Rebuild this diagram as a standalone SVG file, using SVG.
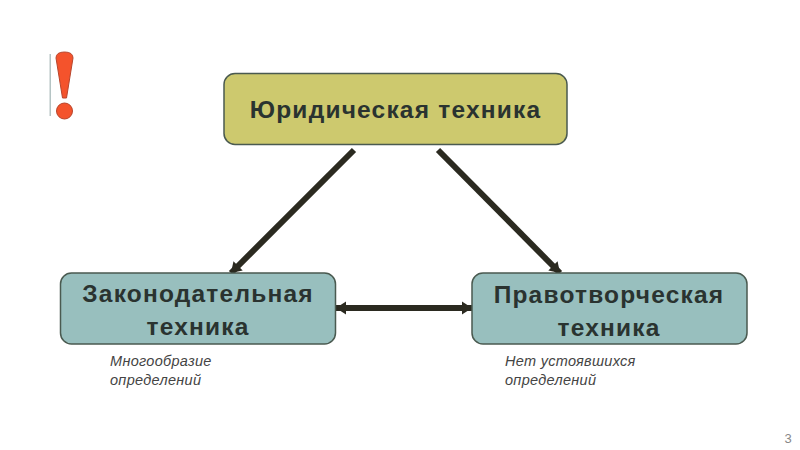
<svg xmlns="http://www.w3.org/2000/svg" width="800" height="450" viewBox="0 0 800 450">
<style>
.n{stroke:#4a5a50;stroke-width:1.5}
.t{font-family:"Liberation Sans",Arial,sans-serif;font-weight:bold;font-size:24.5px;fill:#2a3330;text-anchor:middle;letter-spacing:1.2px}
.s{font-family:"Liberation Sans",Arial,sans-serif;font-style:italic;font-size:14.5px;fill:#444;letter-spacing:.3px}
.c{stroke:#2b2a20;stroke-width:6;fill:none}
</style>
<defs>
<marker id="a" markerUnits="userSpaceOnUse" markerWidth="14" markerHeight="16" refX="11" refY="8" orient="auto-start-reverse"><path d="M1 1.500L11 8L1 14.500z" fill="#2b2a20"/></marker>
</defs>
<rect width="800" height="450" fill="#fff"/>
<g id="mark">
<rect x="49.500" y="54" width="1.500" height="62" fill="#b5c4c4"/>
<path d="M56 58Q56 52 64.500 52Q73 52 73 58L66.500 98H62.500Z" fill="#f4532c" stroke="#b8452c"/>
<circle cx="64.500" cy="111" r="8" fill="#f4532c" stroke="#b8452c"/>
</g>
<g id="connectors">
<path class="c" d="M354 150L231 273" marker-end="url(#a)"/>
<path class="c" d="M438 150L560 273" marker-end="url(#a)"/>
<path class="c" d="M336 308H472" marker-start="url(#a)" marker-end="url(#a)"/>
</g>
<g id="node-top">
<rect class="n" x="224" y="73.500" width="343" height="71" rx="11" fill="#cdc96e"/>
<text class="t" x="395.500" y="118">Юридическая техника</text>
</g>
<g id="node-left">
<rect class="n" x="60.500" y="273" width="275" height="71" rx="11" fill="#98bfbe"/>
<text class="t" x="198" y="301.500">Законодательная</text>
<text class="t" x="198" y="334.500">техника</text>
</g>
<g id="node-right">
<rect class="n" x="472" y="273" width="275" height="71" rx="11" fill="#98bfbe"/>
<text class="t" x="609" y="302.500">Правотворческая</text>
<text class="t" x="609" y="335.500">техника</text>
</g>
<g id="notes">
<text class="s" x="110" y="366">Многообразие</text>
<text class="s" x="110" y="385">определений</text>
<text class="s" x="505" y="366">Нет устоявшихся</text>
<text class="s" x="505" y="385">определений</text>
</g>
<text x="788" y="443" font-family="Liberation Sans,Arial,sans-serif" font-size="13" fill="#888" text-anchor="middle">3</text>
</svg>
